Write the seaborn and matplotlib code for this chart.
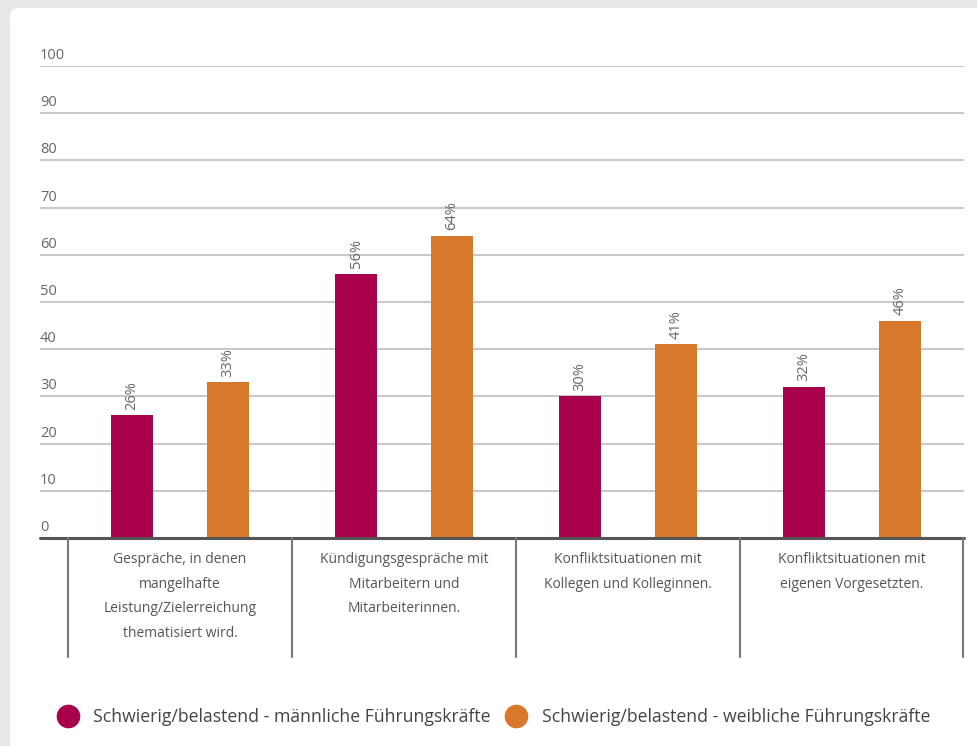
import matplotlib
matplotlib.use("Agg")
import matplotlib.pyplot as plt
import matplotlib.transforms as mtransforms
from matplotlib.patches import FancyBboxPatch
from matplotlib.lines import Line2D
from matplotlib import font_manager
import seaborn as sns
import pandas as pd

categories = [
    "Gespräche, in denen\nmangelhafte\nLeistung/Zielerreichung\nthematisiert wird.",
    "Kündigungsgespräche mit\nMitarbeitern und\nMitarbeiterinnen.",
    "Konfliktsituationen mit\nKollegen und Kolleginnen.",
    "Konfliktsituationen mit\neigenen Vorgesetzten.",
]
series_names = [
    "Schwierig/belastend - männliche Führungskräfte",
    "Schwierig/belastend - weibliche Führungskräfte",
]
male_values = [26, 56, 30, 32]
female_values = [33, 64, 41, 46]
y_ticks = [0, 10, 20, 30, 40, 50, 60, 70, 80, 90, 100]
colors = ["#a8004a", "#d8782b"]

df = pd.DataFrame({
    "Kategorie": categories * 2,
    "Serie": [series_names[0]] * 4 + [series_names[1]] * 4,
    "Wert": male_values + female_values,
})

sns.set_theme(style="white")
available = {f.name for f in font_manager.fontManager.ttflist}
family = "DejaVu Sans"
for cand in ["Liberation Sans Narrow", "Open Sans", "Lato", "Noto Sans"]:
    if cand in available:
        family = cand
        break
plt.rcParams["font.family"] = [family, "DejaVu Sans"]

fig = plt.figure(figsize=(9.78, 7.46), dpi=100)
fig.patch.set_facecolor("#e6e9e8")
card = FancyBboxPatch((10, -20), 1000, 746 - 8 + 20,
                      boxstyle="round,pad=0,rounding_size=9",
                      transform=mtransforms.IdentityTransform(),
                      facecolor="white", edgecolor="none", zorder=-5)
fig.patches.append(card)

ax = fig.add_axes([40 / 978, 208 / 746, 924 / 978, 472 / 746])
ax.set_zorder(2)
ax.set_facecolor("none")

sns.barplot(data=df, x="Kategorie", y="Wert", hue="Serie", palette=colors,
            order=categories, hue_order=series_names, width=0.857, gap=0.5625,
            linewidth=0, saturation=1, errorbar=None, ax=ax, legend=False,
            zorder=3)

ax.set_xlim(-0.625, 3.5)
ax.set_ylim(0, 100)
for s in ax.spines.values():
    s.set_visible(False)
ax.set_xticks([])
ax.set_yticks(y_ticks)
ax.set_yticklabels([])
ax.tick_params(axis="y", length=0)
ax.set_xlabel("")
ax.set_ylabel("")
ax.yaxis.grid(True, color="#c9c9c9", linewidth=1.5, zorder=0)
ax.set_axisbelow(True)
ax.axhline(0, color="#555555", linewidth=2.2, zorder=4, clip_on=False)

trans = mtransforms.blended_transform_factory(ax.transAxes, ax.transData)
off = mtransforms.offset_copy(trans, fig=fig, x=0, y=3, units="dots")
for t in y_ticks:
    ax.text(0.0, t, str(t), transform=off, ha="left", va="bottom",
            fontsize=10.5, color="#666666")

for cont in ax.containers:
    ax.bar_label(cont, fmt="%d%%", rotation=90, padding=4, fontsize=10.5,
                 color="#666666")

# group dividers below axis: left edges of each group plus the right axes edge
xt = mtransforms.blended_transform_factory(ax.transData, ax.transAxes)
bounds = [i - 0.5 for i in range(len(categories))]
for b in bounds:
    ax.add_line(Line2D([b, b], [0, -0.252], transform=xt, color="#777777",
                       linewidth=1.5, clip_on=False, zorder=4))
ax.add_line(Line2D([0.999, 0.999], [0, -0.252], transform=ax.transAxes,
                   color="#777777", linewidth=1.5, clip_on=False, zorder=4))
for i, c in enumerate(categories):
    ax.text(i, -0.029, c, transform=xt, ha="center", va="top",
            fontsize=10, color="#555555", linespacing=1.9, multialignment="center")

handles = [Line2D([], [], marker="o", linestyle="none", markersize=16,
                  markerfacecolor=col, markeredgecolor=col) for col in colors]
fig.legend(handles, series_names, loc="center left",
           bbox_to_anchor=(50 / 978, 1 - 717 / 746), frameon=False, ncol=2,
           fontsize=12.7, handletextpad=0.85, columnspacing=0.85,
           labelcolor="#444444", borderaxespad=0, handlelength=1.2)

fig.savefig("out.png", dpi=100, facecolor=fig.get_facecolor())
